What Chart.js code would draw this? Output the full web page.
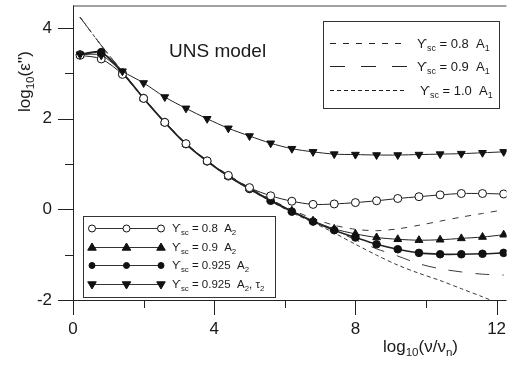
<!DOCTYPE html>
<html>
<head>
<meta charset="utf-8">
<script src="https://cdn.jsdelivr.net/npm/chart.js@4"></script>
<style>
  body { margin: 0; background: #fff; }
  canvas { display: block; }
</style>
</head>
<body>
<canvas id="uns" width="512" height="365"></canvas>
<script>
// log10(nu/nu_n) grid shared by all curves
const xVals = [0.2, 0.8, 1.4, 2.0, 2.6, 3.2, 3.8, 4.4, 5.0, 5.6, 6.2, 6.8, 7.4, 8.0, 8.6, 9.2, 9.8, 10.4, 11.0, 11.6, 12.2];

// A2 model, symbols
const a2g080 = [3.40, 3.32, 2.98, 2.45, 1.92, 1.45, 1.07, 0.75, 0.48, 0.30, 0.18, 0.11, 0.12, 0.15, 0.19, 0.24, 0.28, 0.32, 0.35, 0.35, 0.34];
const a2g090 = [3.40, 3.45, 3.00, 2.45, 1.92, 1.44, 1.06, 0.73, 0.46, 0.21, -0.03, -0.25, -0.43, -0.54, -0.62, -0.66, -0.68, -0.67, -0.64, -0.61, -0.56];
const a2g0925 = [3.42, 3.47, 3.02, 2.45, 1.92, 1.44, 1.06, 0.73, 0.45, 0.19, -0.05, -0.27, -0.46, -0.62, -0.77, -0.88, -0.96, -0.99, -0.99, -0.98, -0.96];
const a2g0925tau = [3.42, 3.40, 3.05, 2.79, 2.48, 2.23, 2.00, 1.79, 1.62, 1.46, 1.34, 1.27, 1.22, 1.21, 1.20, 1.20, 1.21, 1.22, 1.23, 1.25, 1.27];

// A1 model, dashed lines
const a1g080 = [4.24, 3.62, 3.04, 2.46, 1.93, 1.46, 1.08, 0.76, 0.48, 0.22, -0.01, -0.20, -0.35, -0.44, -0.47, -0.43, -0.35, -0.26, -0.17, -0.09, -0.01];
const a1g090 = [4.24, 3.62, 3.04, 2.46, 1.93, 1.45, 1.07, 0.74, 0.46, 0.20, -0.04, -0.26, -0.46, -0.67, -0.87, -1.03, -1.20, -1.31, -1.38, -1.43, -1.45];
const a1g100 = [4.24, 3.62, 3.04, 2.46, 1.93, 1.45, 1.06, 0.73, 0.44, 0.18, -0.07, -0.29, -0.52, -0.77, -1.01, -1.23, -1.41, -1.57, -1.75, -1.93, -2.12];

const yTicks = [-2, 0, 2, 4];
const xTicks = [0, 4, 8, 12];

const pts = arr => arr.map((y, i) => ({ x: xVals[i], y: y }));
const FONT = '"Liberation Sans", Arial, Helvetica, sans-serif';
const INK = '#1a1a1a';

function dashedLine(label, data, dash, order) {
  return {
    label: label, data: pts(data), showLine: true, pointRadius: 0,
    borderColor: '#3a3a3a', borderWidth: 1, borderDash: dash, tension: 0.3, order: order
  };
}

function markerLine(label, data, style, rot, fill, r, lw, order) {
  return {
    label: label, data: pts(data), showLine: true, tension: 0.3,
    borderColor: '#222', borderWidth: lw,
    pointStyle: style, pointRotation: rot, pointRadius: r,
    pointBackgroundColor: fill, pointBorderColor: '#111', pointBorderWidth: 1,
    order: order
  };
}

// text with subscripts: parts = [[text, isSub], ...]
function richText(ctx, parts, x, y, size) {
  let cx = x;
  parts.forEach(p => {
    const s = p[1] ? size * 0.68 : size;
    ctx.font = s + 'px ' + FONT;
    ctx.fillText(p[0], cx, p[1] ? y + size * 0.22 : y);
    cx += ctx.measureText(p[0]).width;
  });
  return cx;
}

function marker(ctx, style, x, y, r, fill) {
  ctx.beginPath();
  if (style === 'circle') {
    ctx.arc(x, y, r, 0, Math.PI * 2);
  } else {
    const d = style === 'down' ? -1 : 1;
    ctx.moveTo(x, y - d * r);
    ctx.lineTo(x + r * 0.95, y + d * r * 0.6);
    ctx.lineTo(x - r * 0.95, y + d * r * 0.6);
    ctx.closePath();
  }
  ctx.fillStyle = fill;
  ctx.fill();
  ctx.lineWidth = 1;
  ctx.strokeStyle = '#111';
  ctx.stroke();
}

function fixBox(s, key, size) {
  s[key] = size;
  s.paddingTop = 0; s.paddingBottom = 0; s.paddingLeft = 0; s.paddingRight = 0;
}

const decor = {
  id: 'decor',
  afterDraw(chart) {
    const ctx = chart.ctx;
    const a = chart.chartArea;
    const xs = chart.scales.x, ys = chart.scales.y;
    ctx.save();

    // frame: top border, left and bottom axes
    ctx.strokeStyle = '#444';
    ctx.lineWidth = 1;
    ctx.beginPath();
    ctx.moveTo(a.left, a.top + 0.5); ctx.lineTo(a.right, a.top + 0.5);
    ctx.stroke();
    ctx.strokeStyle = '#222';
    ctx.beginPath();
    ctx.moveTo(a.left + 0.5, a.top); ctx.lineTo(a.left + 0.5, a.bottom + 15);
    ctx.moveTo(a.left - 15, a.bottom + 0.5); ctx.lineTo(a.right, a.bottom + 0.5);
    for (let v = -1; v <= 4; v++) {
      const py = Math.round(ys.getPixelForValue(v)) + 0.5;
      const len = v % 2 === 0 ? 15 : 8;
      ctx.moveTo(a.left - len, py); ctx.lineTo(a.left, py);
    }
    for (let v = 2; v <= 12; v += 2) {
      const px = Math.round(xs.getPixelForValue(v)) + 0.5;
      const len = v % 4 === 0 ? 15 : 8;
      ctx.moveTo(px, a.bottom); ctx.lineTo(px, a.bottom + len);
    }
    ctx.stroke();

    ctx.fillStyle = INK;
    ctx.textBaseline = 'alphabetic';
    ctx.textAlign = 'left';

    // in-plot title
    ctx.font = '19px ' + FONT;
    ctx.fillText('UNS model', 169, 57);

    // x axis title
    richText(ctx, [['log', false], ['10', true], ['(ν/ν', false], ['n', true], [')', false]], 383, 352, 17);

    // y axis title, rotated
    ctx.save();
    ctx.translate(30, 112);
    ctx.rotate(-Math.PI / 2);
    richText(ctx, [['log', false], ['10', true], ['(ε\'\')', false]], 0, 0, 17);
    ctx.restore();

    // legend for A1 curves
    ctx.fillStyle = '#fff';
    ctx.fillRect(323, 21, 176, 87);
    ctx.strokeStyle = '#333';
    ctx.strokeRect(323.5, 21.5, 176, 87);
    const l1 = [[[6, 7], '0.8', 43], [[15, 16], '0.9', 66], [[4, 3], '1.0', 90]];
    l1.forEach(e => {
      ctx.setLineDash(e[0]);
      ctx.strokeStyle = '#222';
      ctx.beginPath();
      ctx.moveTo(330, e[2] + 0.5); ctx.lineTo(407, e[2] + 0.5);
      ctx.stroke();
      ctx.setLineDash([]);
      ctx.fillStyle = INK;
      const tx = e[1] === '1.0' ? 420 : 417;
      richText(ctx, [['ϒ', false], ['sc', true], [' = ' + e[1] + '  A', false], ['1', true]], tx, e[2] + 5, 13);
    });

    // legend for A2 curves
    ctx.fillStyle = '#fff';
    ctx.fillRect(83, 216, 192, 81);
    ctx.strokeStyle = '#333';
    ctx.strokeRect(83.5, 216.5, 192, 81);
    const l2 = [
      ['circle', '#fff', 3.5, [[' = 0.8  A', false], ['2', true]], 228],
      ['up', '#111', 4.5, [[' = 0.9  A', false], ['2', true]], 247],
      ['circle', '#111', 3, [[' = 0.925  A', false], ['2', true]], 265],
      ['down', '#111', 4.5, [[' = 0.925  A', false], ['2', true], [', τ', false], ['2', true]], 284]
    ];
    l2.forEach(e => {
      ctx.strokeStyle = '#333';
      ctx.beginPath();
      ctx.moveTo(92, e[4] + 0.5); ctx.lineTo(161, e[4] + 0.5);
      ctx.stroke();
      [92, 126.5, 161].forEach(mx => marker(ctx, e[0], mx, e[4] + 0.5, e[2], e[1]));
      ctx.fillStyle = INK;
      richText(ctx, [['ϒ', false], ['sc', true]].concat(e[3]), 172, e[4] + 4, 11.5);
    });

    ctx.restore();
  }
};

new Chart(document.getElementById('uns').getContext('2d'), {
  type: 'scatter',
  data: {
    datasets: [
      markerLine('γsc = 0.8 A2', a2g080, 'circle', 0, '#fff', 4, 1, 2),
      markerLine('γsc = 0.9 A2', a2g090, 'triangle', 0, '#111', 4.5, 1, 3),
      markerLine('γsc = 0.925 A2', a2g0925, 'circle', 0, '#111', 3.8, 1.6, 4),
      markerLine('γsc = 0.925 A2, τ2', a2g0925tau, 'triangle', 180, '#111', 4.5, 1, 1),
      dashedLine('γsc = 0.8 A1', a1g080, [6, 7], 5),
      dashedLine('γsc = 0.9 A1', a1g090, [14, 13], 6),
      dashedLine('γsc = 1.0 A1', a1g100, [4, 3], 7)
    ]
  },
  options: {
    responsive: false,
    animation: false,
    layout: { padding: { top: 3, left: 0, right: 0, bottom: 0 } },
    plugins: { legend: { display: false }, tooltip: { enabled: false } },
    scales: {
      x: {
        type: 'linear', min: 0, max: 12.28,
        afterBuildTicks: s => { s.ticks = xTicks.map(v => ({ value: v })); },
        afterFit: s => fixBox(s, 'height', 65),
        grid: { display: false, drawTicks: false },
        border: { display: false },
        ticks: {
          padding: 19, color: INK, maxRotation: 0, autoSkip: false,
          font: { family: FONT, size: 17 }
        }
      },
      y: {
        min: -2, max: 4.5,
        afterBuildTicks: s => { s.ticks = yTicks.map(v => ({ value: v })); },
        afterFit: s => fixBox(s, 'width', 73),
        grid: { display: false, drawTicks: false },
        border: { display: false },
        ticks: {
          padding: 21, color: INK, autoSkip: false,
          font: { family: FONT, size: 17 }
        }
      }
    }
  },
  plugins: [decor]
});
</script>
</body>
</html>
